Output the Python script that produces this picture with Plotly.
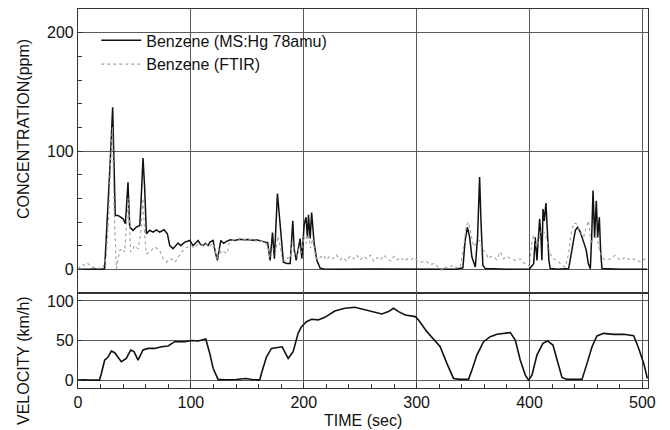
import plotly.graph_objects as go

# ---------------- data ----------------
ms_t = [0, 5, 10, 15, 20, 23.6, 25, 27, 28.5, 30.7, 32, 33, 35.5, 38, 40, 42, 43, 44.3, 45.8, 48.8,
        51.7, 54.7, 56, 57.6, 59, 60.6, 63.5, 66.5, 69.4, 72.4, 76.2, 79.2, 81.3, 84.2, 88.7, 91,
        94.6, 99, 102, 104, 106.4, 108.5, 110.8, 113, 115.2, 117, 119.7, 121.5, 123.5, 125, 126.5,
        129, 131.5, 135, 139, 143, 147, 151, 155, 159, 163, 166, 168, 170.2, 172.3, 174, 176.7,
        179, 182, 185, 188, 190.3, 191.5, 193.3, 196.8, 198.3, 200.4, 202, 203.3, 204.2, 205.7,
        207, 209.2, 211.6, 214.5, 218, 230, 260, 300, 320, 335, 341, 343, 345, 347, 349, 352, 354,
        355.8, 357, 358.7, 360.8, 380, 400, 403.7, 405.1, 406.6, 409, 410.2, 411, 412, 413.1,
        414.6, 416.1, 417.2, 418.4, 425, 434.7, 437.6, 440.6, 442.7, 445, 448, 450.3, 452.1,
        453.9, 455.1, 456.3, 457.7, 459.2, 460.4, 461.9, 463, 464.2, 480, 504]
ms_c = [0, 0.3, 0, 0.2, 0, 0.5, 24, 55, 90, 137, 90, 45.5, 45.5, 44, 42.7, 38.5, 55, 73.6, 35.7, 32.9,
        35.7, 37.1, 60, 94, 70, 30, 33, 31.5, 33.4, 31.5, 33.4, 30, 20, 17.4, 22.2, 20,
        23, 24.4, 20, 22, 24.4, 21, 20, 22, 20, 23, 24.4, 15, 7.6, 16, 24.4,
        22, 23.6, 25, 24.4, 25.5, 25, 25.3, 24.6, 24.8, 23.5, 23, 22.7, 7.6, 31, 9, 64,
        40, 6, 5, 5, 41, 17, 7.6, 26, 9, 38, 44, 26, 46, 26,
        48, 22, 7.6, 1, 0.3, 0, 0.2, 0, -0.5, 0, 1.3, 24.4, 35.6, 27, 10.4, 1.9, 27,
        78, 41, 3.4, 0.6, 0, 0.3, 4.8, 27, 7.6, 42.7, 27, 7.6, 51, 41,
        56, 27, 7.6, 0.6, 0, 0.6, 16, 32.9, 35.6, 31.5, 23, 16, 4.8,
        0.6, 27, 66.6, 27, 58, 27, 44, 16, 0.6, 0, 0]

ft_t = [0, 2, 4.4, 6, 8.9, 11, 13.3, 15, 17.7, 20, 22.2, 25, 27, 29, 30.5, 32, 34, 37, 40, 41.4,
        43, 44.5, 46.7, 50.2, 53.2, 55.5, 57.5, 59, 60.6, 63.5, 68, 72.4, 75.4, 78.3, 80.5, 82.7,
        85, 87.2, 91.6, 96, 100.5, 103, 106.4, 110, 113, 116, 119.7, 122, 123.5, 125, 127, 129,
        132, 134, 137, 141, 145, 149, 153, 157, 161, 165, 168, 170, 172.5, 175, 177, 179, 181,
        184, 186, 188, 190, 192, 194, 196, 198, 200, 202, 204, 206, 208, 210, 212, 214.5, 217,
        220, 223, 226, 229, 232, 235, 238, 241, 244, 247, 250, 253, 256, 259, 262, 265, 268,
        271, 274, 277, 280, 283, 286, 289, 292, 295, 298, 300, 304, 308, 312, 316, 319, 322,
        325, 328, 331, 334, 336, 338.7, 341.6, 344, 346, 348, 350.5, 353.4, 355.8, 357.9, 360.8,
        363.8, 366, 368.2, 371, 374, 377, 380, 383, 387.4, 391.8, 394, 396.3, 400.1, 402.2,
        403.7, 405, 406.6, 409, 411, 414, 416.1, 418.4, 421.4, 425.8, 428.8, 431.7, 434.7,
        436.8, 439.1, 441.5, 445, 448, 450.3, 452.4, 454.5, 456.8, 459.8, 462.2, 464.2, 467.2,
        471.6, 476, 480.5, 485, 489.3, 493.8, 498.2, 502.6, 504]
ft_c = [0.5, 2, 4.2, 3, 4.8, 3, 1.4, 2, 0.6, 1.5, 1.4, 10.4, 40, 95, 120, 50, 0.6, 16, 17.4, 14.6,
        35, 60, 14.6, 20, 17.4, 30, 60, 30, 13.2, 14.6, 19, 16, 9, 6.2, 8, 9,
        6, 7.6, 14.6, 18.3, 20, 18, 21.4, 20, 22, 19, 22, 12, 8, 18, 13.5, 15,
        13.5, 22, 25, 24, 26, 25, 25.5, 24, 24.5, 23, 20, 10, 18, 14, 28, 20, 8,
        7, 10, 9, 25, 12, 10, 20, 14, 28, 22, 30, 18, 26, 14, 8, 10, 12,
        8, 11, 9, 12, 8, 10, 7, 11, 9, 12, 8, 11, 9, 12, 7, 10, 8,
        12, 9, 7, 11, 8, 10, 7, 9, 8, 10, 7.6, 6, 7, 4, 5, 2, -0.8,
        2, 1, 3, 1, 2, 1.9, 18.8, 37, 40, 30, 19, 23, 24.4, 17.4, 14.6,
        9, 11, 10.4, 8, 14.6, 9, 11, 9, 7.6, 9, 6, 4.8, 2.5, 24.4,
        28.6, 22, 18.8, 27, 34, 30, 21.6, 13, 9, 6.2, 3.4, 2, 13,
        30, 39, 38.5, 31.5, 27, 35.6, 41, 21.6, 27, 27, 16, 10.4, 7.6,
        9, 11.8, 7.6, 10.4, 7.6, 9, 6.2, 9, 7.6]

vel_t = [0, 5, 10, 15, 19, 20.7, 23.6, 26.6, 29.5, 32.5, 35.5, 38.4, 42.8, 46.7, 49.6, 53.2, 57.6,
         62, 68, 73.9, 79.8, 85.7, 94.6, 100.5, 106.4, 113.2, 116.7, 119.7, 124.1, 130, 140, 149,
         155, 161, 162.5, 167, 171.4, 177.3, 180.9, 186.2, 190.6, 195, 198, 202.4, 206.9, 212.8,
         218.7, 227.5, 236.4, 245.3, 251.2, 255.9, 261.8, 269.2, 275.1, 279.5, 284, 289.9, 298.8,
         301.7, 309.1, 316.5, 320.9, 326.8, 332.7, 338.7, 346, 349, 353.4, 359.3, 365.2, 371.2,
         377, 383, 387.4, 391.8, 396.3, 399.2, 402.2, 406.6, 411.9, 416, 420.8, 424.3, 428.8, 433,
         446.5, 451, 455.4, 459.8, 465.7, 474.6, 483.5, 492.3, 496.8, 501.2, 504.5]
vel_v = [0, 0.5, 0, 0.3, 0, 8.4, 25, 29, 36.7, 34.6, 29.5, 23.2, 27.4, 38, 35.9, 25.3, 38,
         40, 40, 42.2, 43, 48.5, 48.5, 50, 49.4, 52, 34, 15, 0.9, 0.5, 0.8, 2,
         0.5, 0.3, 8.4, 29.5, 40, 41, 42, 27.4, 35.9, 59, 67.5, 73.8, 76.8, 76,
         79.3, 87.3, 90.7, 92, 89.9, 87.7, 86.5, 83.5, 86.5, 90.7, 86.5, 82.3, 80.2,
         76, 61.2, 48.5, 42.2, 21.1, 2.1, 0.9, 0.9, 12.7, 31.6, 48.5, 54.9, 57.8,
         59, 60, 50.6, 25.3, 6.3, 0, 6.3, 31.6, 46.4, 49.4, 44.3, 25.3, 3.4, 0.9,
         0.9, 21.1, 42.2, 55.7, 59, 57.8, 57.8, 56.1, 40, 21.1, 2]

FONT = "Arial, Liberation Sans, sans-serif"
AX = "#333333"
GRID = "#5a5a5a"
TXT = "#111111"

fig = go.Figure()
fig.add_trace(go.Scatter(x=ms_t, y=ms_c, mode="lines", name="Benzene (MS:Hg 78amu)",
                         line=dict(color="#111111", width=1.5), xaxis="x2", yaxis="y"))
fig.add_trace(go.Scatter(x=ft_t, y=ft_c, mode="lines", name="Benzene (FTIR)",
                         line=dict(color="#a0a0a0", width=1.1, dash="dot"), xaxis="x2", yaxis="y"))
fig.add_trace(go.Scatter(x=vel_t, y=vel_v, mode="lines", showlegend=False,
                         line=dict(color="#111111", width=1.6), xaxis="x", yaxis="y2"))

split = 95 / 379

common = dict(showline=True, linecolor=AX, linewidth=1.2, mirror=True,
              showgrid=True, gridcolor=GRID, gridwidth=1, zeroline=False,
              tickfont=dict(family=FONT, size=16, color=TXT))

# the page body adds an 8px offset, so the figure is 8px smaller and the
# margins are shifted to keep the plot area where the reference has it
fig.update_layout(
    width=662, height=422,
    margin=dict(l=70, r=22, t=1, b=42),
    paper_bgcolor="white", plot_bgcolor="white",
    font=dict(family=FONT, size=16, color=TXT),
    xaxis=dict(domain=[0, 1], anchor="y2", range=[0, 505], tick0=0, dtick=100,
               ticks="inside", ticklen=5, tickcolor=AX,
               minor=dict(dtick=20, ticks="inside", ticklen=4, tickcolor=AX, showgrid=False),
               **common),
    xaxis2=dict(domain=[0, 1], anchor="y", matches="x", range=[0, 505], tick0=0, dtick=100,
                showticklabels=False, ticks="", **common),
    yaxis=dict(domain=[split, 1], anchor="x2", range=[-20, 220], tick0=0, dtick=100,
               ticks="inside", ticklen=5, tickcolor=AX,
               minor=dict(dtick=20, ticks="inside", ticklen=4, tickcolor=AX, showgrid=False),
               **common),
    yaxis2=dict(domain=[0, split], anchor="x", range=[-10, 110], tick0=0, dtick=50,
                ticks="inside", ticklen=4, tickcolor=AX, **common),
    legend=dict(x=0.032, y=0.962, xanchor="left", yanchor="top",
                bgcolor="rgba(0,0,0,0)", borderwidth=0,
                font=dict(family=FONT, size=16, color=TXT),
                tracegroupgap=0, itemwidth=40),
    showlegend=True,
)

fig.add_annotation(text="CONCENTRATION(ppm)", xref="paper", yref="paper",
                   x=-0.0965, y=(388 - 129) / 379, textangle=-90, showarrow=False,
                   xanchor="center", yanchor="middle",
                   font=dict(family=FONT, size=16, color=TXT))
fig.add_annotation(text="VELOCITY (km/h)", xref="paper", yref="paper",
                   x=-0.0965, y=(388 - 360) / 379, textangle=-90, showarrow=False,
                   xanchor="center", yanchor="middle",
                   font=dict(family=FONT, size=16, color=TXT))
fig.add_annotation(text="TIME (sec)", xref="paper", yref="paper",
                   x=0.5, y=(388 - 420) / 379, showarrow=False,
                   xanchor="center", yanchor="middle",
                   font=dict(family=FONT, size=16, color=TXT))

fig.write_html("out.html")
